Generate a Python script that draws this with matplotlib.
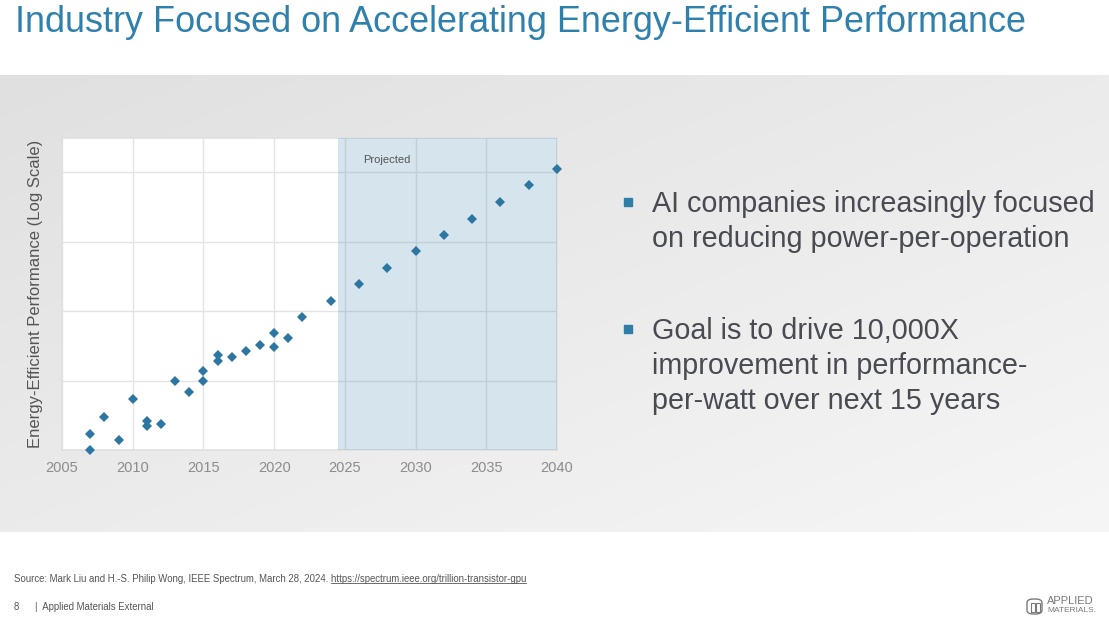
import numpy as np
import matplotlib
matplotlib.use("Agg")
import matplotlib.pyplot as plt
from matplotlib.patches import Rectangle, FancyBboxPatch
from matplotlib.lines import Line2D

plt.rcParams['font.family'] = ['Liberation Sans', 'DejaVu Sans']

# ---------------- data ----------------
hist_years = [2007, 2007, 2008, 2009, 2010, 2011, 2011, 2012, 2013, 2014, 2015, 2015,
              2016, 2016, 2017, 2018, 2019, 2020, 2020, 2021, 2022, 2024]
hist_values = [1.0, 1.7, 2.95, 1.38, 5.4, 2.6, 2.2, 2.4, 10.0, 6.8, 13.5, 9.8,
               23.4, 19.0, 21.9, 26.9, 32.4, 47.9, 30.2, 40.7, 81.0, 141.0]
proj_years = [2026, 2028, 2030, 2032, 2034, 2036, 2038, 2040]
proj_values = [245, 417, 724, 1259, 2138, 3715, 6457, 10965]
x_ticks = [2005, 2010, 2015, 2020, 2025, 2030, 2035, 2040]
y_grid = [10, 100, 1000, 10000]
projected_start = 2024.55

title = "Industry Focused on Accelerating Energy-Efficient Performance"
ylabel = "Energy-Efficient Performance (Log Scale)"
bullets = [
    ["AI companies increasingly focused", "on reducing power-per-operation"],
    ["Goal is to drive 10,000X", "improvement in performance-", "per-watt over next 15 years"],
]
source_text = "Source: Mark Liu and H.-S. Philip Wong, IEEE Spectrum, March 28, 2024. "
source_url = "https://spectrum.ieee.org/trillion-transistor-gpu"
footer = "|  Applied Materials External"

W, H = 1109, 623
fig = plt.figure(figsize=(W / 100, H / 100), dpi=100)
fig.patch.set_facecolor('white')

def fx(px):
    return px / W

def fy(py):
    return 1 - py / H

# ---------------- background gradient panel ----------------
bg = fig.add_axes([0, fy(532), 1, (532 - 75) / H], zorder=-10)
gx = np.linspace(0, 1, 300)
gy = np.linspace(0, 1, 120)
GX, GY = np.meshgrid(gx, gy)
v = (224 + 22 * (0.5 * GX + 0.5 * GY)) / 255.0
img = np.dstack([v, v, v])
bg.imshow(img, aspect='auto', extent=[0, 1, 1, 0])
bg.set_axis_off()

# ---------------- title ----------------
fig.text(fx(15), fy(23), title, fontsize=25.9, color='#2f80ad', ha='left', va='center')

# ---------------- chart ----------------
ax = fig.add_axes([fx(62), fy(450), (557 - 62) / W, (450 - 138) / H])
ax.set_facecolor('white')
ax.set_yscale('log')
ax.set_xlim(2005, 2040)
ax.set_ylim(1, 10 ** 4.49)
ax.set_xticks(x_ticks)
ax.set_xticklabels([str(t) for t in x_ticks])
ax.set_yticks(y_grid)
ax.yaxis.set_minor_locator(matplotlib.ticker.NullLocator())
ax.set_yticklabels([])
ax.tick_params(axis='both', length=0, pad=8, labelsize=10.5, labelcolor='#8c8c8c')
ax.set_axisbelow(True)
ax.grid(True, color='#e4e4e4', lw=1.0)
for s in ax.spines.values():
    s.set_color('#e0e0e0')
    s.set_linewidth(1.2)
ax.axvspan(projected_start, 2040, color='#5b95b8', alpha=0.25, lw=0, zorder=3)
ax.plot(hist_years, hist_values, 'D', color='#2d76a1', ms=5.5, zorder=5, clip_on=False, mew=0)
ax.plot(proj_years, proj_values, 'D', color='#2d76a1', ms=5.5, zorder=5, clip_on=False, mew=0)
ax.text(2028.0, 10 ** 4.17, "Projected", fontsize=8, color='#555555', ha='center', va='center', zorder=6)
ax.set_ylabel(ylabel, fontsize=12, color='#555555', labelpad=6)

# ---------------- bullets ----------------
line_h = 35
y0s = [204, 331]
for y0, lines in zip(y0s, bullets):
    fig.patches.append(Rectangle((fx(624), fy(y0 + 2)), 8 / W, 8 / H,
                                 transform=fig.transFigure, color='#2e7ea6'))
    for i, ln in enumerate(lines):
        fig.text(fx(652), fy(y0 + i * line_h), ln, fontsize=20.7, color='#4a4a52',
                 ha='left', va='center')

# ---------------- source & footer ----------------
t_full = fig.text(fx(14), fy(579), source_text + source_url, fontsize=6.9, color='#555555',
                  ha='left', va='center')
t_pre = fig.text(fx(14), fy(579), source_text.rstrip() + " ", fontsize=6.9, color='#555555',
                 ha='left', va='center', alpha=0)
fig.canvas.draw()
r = fig.canvas.get_renderer()
bb_full = t_full.get_window_extent(r)
# width of prefix text including trailing space
w_pre, _, _ = r.get_text_width_height_descent(source_text, t_pre.get_fontproperties(), ismath=False)
x_start = bb_full.x0 + w_pre
t_pre.remove()
fig.lines.append(Line2D([x_start / W, bb_full.x1 / W], [(bb_full.y0 + 0.8) / H] * 2,
                        transform=fig.transFigure, color='#555555', lw=0.6))

fig.text(fx(14), fy(607), "8", fontsize=6.9, color='#555555', ha='left', va='center')
fig.text(fx(35), fy(607), footer, fontsize=6.9, color='#555555', ha='left', va='center')

# ---------------- logo ----------------
lc = '#7a7a7a'
fig.patches.append(FancyBboxPatch((fx(1027), fy(614)), 15 / W, 15 / H,
                                  boxstyle='round,pad=0,rounding_size=0.006',
                                  transform=fig.transFigure, fill=False, ec=lc, lw=1.0))
fig.patches.append(Rectangle((fx(1031), fy(612)), 4 / W, 9 / H, transform=fig.transFigure,
                             fill=False, ec=lc, lw=0.8))
fig.patches.append(Rectangle((fx(1036), fy(612)), 4 / W, 9 / H, transform=fig.transFigure,
                             fill=False, ec=lc, lw=0.8))
fig.text(fx(1047), fy(601), "APPLIED", fontsize=8, color=lc, ha='left', va='center')
fig.text(fx(1047), fy(610), "MATERIALS.", fontsize=6, color=lc, ha='left', va='center')

fig.savefig('out.png', dpi=100, facecolor='white')
